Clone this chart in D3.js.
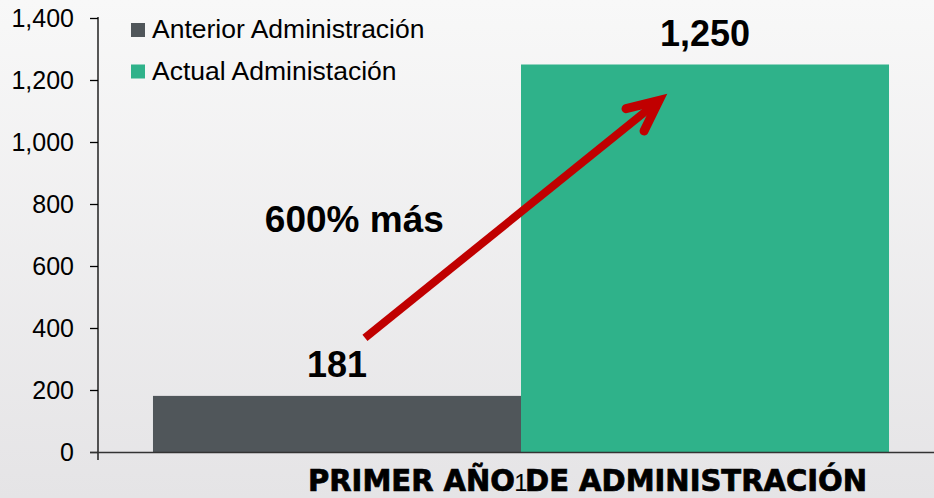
<!DOCTYPE html>
<html>
<head>
<meta charset="utf-8">
<script src="https://cdn.jsdelivr.net/npm/d3@7"></script>
<style>
  html, body { margin: 0; padding: 0; background: #ffffff; }
  svg { display: block; font-family: "Liberation Sans", Arial, sans-serif; }
</style>
</head>
<body>
<svg id="chart" width="934" height="498"></svg>
<script>
// chart data
var categories = ["1"];
var series_names = ["Anterior Administración", "Actual Administación"];
var series_colors = ["#50565a", "#2fb28a"];
var series_values = [181, 1250];
var value_labels = ["181", "1,250"];
var y_ticks = [0, 200, 400, 600, 800, 1000, 1200, 1400];
var axis_title = "PRIMER AÑO DE ADMINISTRACIÓN";
var note_text = "600% más";
// arrow annotation in data units: position across the category band (0..1) and value
var arrow_from = { pos: 0.288, value: 368 };
var arrow_to = { pos: 0.697, value: 1152 };
var note_at = { pos: 0.152, value: 710 };

var W = 934, H = 498;
var g_svg = d3.select("#chart");

// background gradient
var defs = g_svg.append("defs");
var grad = defs.append("linearGradient").attr("id", "bg").attr("x1", 0).attr("y1", 0).attr("x2", 0).attr("y2", 1);
grad.append("stop").attr("offset", "0%").attr("stop-color", "#f8f8f8");
grad.append("stop").attr("offset", "100%").attr("stop-color", "#e5e4e6");
g_svg.append("rect").attr("width", W).attr("height", H).attr("fill", "url(#bg)");

// scales
var y = d3.scaleLinear().domain([0, 1400]).range([452, 18]);
var x = d3.scaleBand().domain(categories).range([98, 944]).paddingInner(0).paddingOuter(0.0747);
var xs = d3.scaleBand().domain(series_names).range([0, x.bandwidth()]).padding(0);
var band_x = function (p) { return x(categories[0]) + p * x.bandwidth(); };

// bars
var bars = series_names.map(function (d, i) { return { name: d, value: series_values[i], color: series_colors[i], label: value_labels[i] }; });
g_svg.selectAll(".bar").data(bars).join("rect").classed("bar", true)
    .attr("x", d => x(categories[0]) + xs(d.name))
    .attr("y", d => y(d.value))
    .attr("width", xs.bandwidth())
    .attr("height", d => y(0) - y(d.value))
    .attr("fill", d => d.color);

// value labels
g_svg.selectAll(".vlabel").data(bars).join("text").classed("vlabel", true)
    .attr("x", d => x(categories[0]) + xs(d.name) + xs.bandwidth() / 2)
    .attr("y", d => y(d.value) - 19)
    .attr("text-anchor", "middle")
    .attr("font-size", "36px").attr("font-weight", "bold").attr("fill", "#000")
    .text(d => d.label);

// y axis
var yAxis = g_svg.append("g").attr("transform", "translate(98,0)")
    .call(d3.axisLeft(y).tickValues(y_ticks).tickSize(8).tickPadding(16).tickFormat(d3.format(",")));
yAxis.select(".domain").attr("stroke", "#000").attr("stroke-width", 1.3).attr("d", "M0," + (y(1400) - 1) + "V" + (y(0) + 8));
yAxis.selectAll(".tick line").attr("stroke", "#000").attr("stroke-width", 1.3);
yAxis.selectAll(".tick text").attr("font-size", "25px").attr("fill", "#000")
    .attr("font-family", "'Liberation Sans', Arial, sans-serif");

// x axis line
g_svg.append("line").attr("x1", 90).attr("x2", W).attr("y1", y(0) + 0.5).attr("y2", y(0) + 0.5)
    .attr("stroke", "#333").attr("stroke-width", 1.6);

// axis title, then the category label on top of it
g_svg.append("text").attr("x", 308).attr("y", 491)
    .attr("font-family", "'Liberation Sans Narrow', 'DejaVu Sans Condensed', sans-serif")
    .attr("font-size", "31px").attr("font-weight", "bold").attr("fill", "#000")
    .attr("stroke", "#000").attr("stroke-width", 0.7)
    .attr("textLength", 559).attr("lengthAdjust", "spacingAndGlyphs")
    .text(axis_title);
g_svg.selectAll(".xlabel").data(categories).join("text").classed("xlabel", true)
    .attr("x", d => x(d) + x.bandwidth() / 2).attr("y", 491)
    .attr("text-anchor", "middle").attr("font-size", "24px").attr("fill", "#000")
    .text(d => d);

// legend
var legend = g_svg.selectAll(".legend").data(bars).join("g").classed("legend", true)
    .attr("transform", (d, i) => "translate(131," + (23 + i * 41.5) + ")");
legend.append("rect").attr("width", 14).attr("height", 14).attr("fill", d => d.color);
legend.append("text").attr("x", 21).attr("y", 15).attr("font-size", "26.5px").attr("fill", "#000")
    .text(d => d.name);

// note
g_svg.append("text").attr("x", band_x(note_at.pos)).attr("y", y(note_at.value))
    .attr("font-size", "37px").attr("font-weight", "bold").attr("fill", "#000")
    .text(note_text);

// arrow
var ax0 = band_x(arrow_from.pos), ay0 = y(arrow_from.value);
var ax1 = band_x(arrow_to.pos), ay1 = y(arrow_to.value);
var ang = Math.atan2(ay0 - ay1, ax0 - ax1); // pointing back along the shaft
var head = 34, spread = 25 * Math.PI / 180;
// pull the vertex back so the mitred tip lands on the target point
var back = 9;
var vx = ax1 + back * Math.cos(ang), vy = ay1 + back * Math.sin(ang);
var w1 = [vx + head * Math.cos(ang + spread), vy + head * Math.sin(ang + spread)];
var w2 = [vx + head * Math.cos(ang - spread), vy + head * Math.sin(ang - spread)];
var red = "#c00000";
g_svg.append("line").attr("x1", ax0).attr("y1", ay0)
    .attr("x2", vx).attr("y2", vy)
    .attr("stroke", red).attr("stroke-width", 8);
g_svg.append("path")
    .attr("d", d3.line()([w1, [vx, vy], w2]))
    .attr("fill", "none").attr("stroke", red).attr("stroke-width", 9)
    .attr("stroke-linecap", "round").attr("stroke-linejoin", "miter");
</script>
</body>
</html>
